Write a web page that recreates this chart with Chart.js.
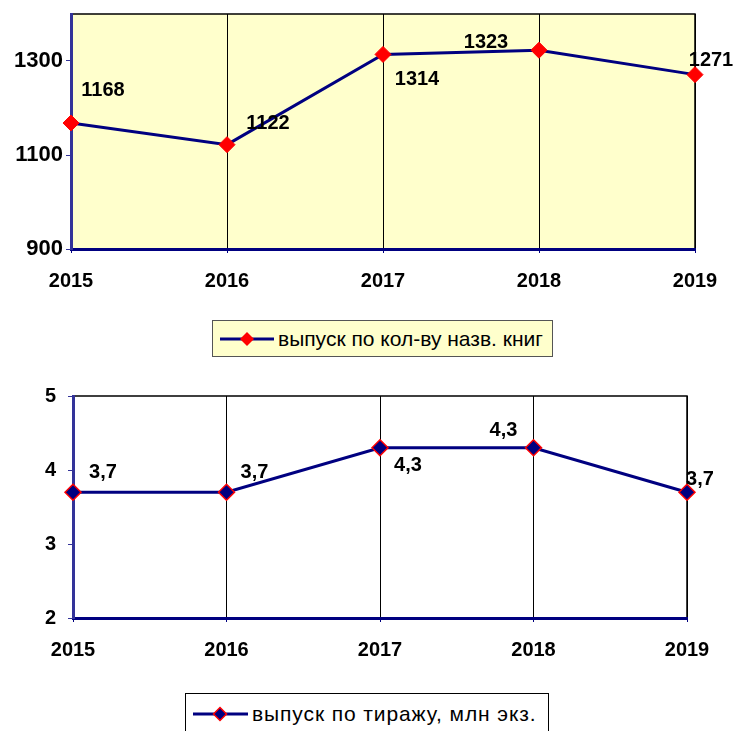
<!DOCTYPE html>
<html>
<head>
<meta charset="utf-8">
<script src="https://cdn.jsdelivr.net/npm/chart.js@4.4.1/dist/chart.umd.min.js"></script>
<style>
  html, body { margin:0; padding:0; background:#fff; }
  body { width:734px; height:731px; position:relative; overflow:hidden; font-family:"Liberation Sans", Arial, sans-serif; }
  .wrap { position:absolute; left:0; width:734px; height:300px; }
  .legend { position:absolute; box-sizing:border-box; display:flex; align-items:center; font-size:21px; color:#000; white-space:nowrap; }
  .legend svg { flex:none; margin-right:4px; }
</style>
</head>
<body>
<div class="wrap" style="top:0"><canvas id="c1" width="734" height="300"></canvas></div>
<div class="wrap" style="top:380px"><canvas id="c2" width="734" height="300"></canvas></div>

<div class="legend" id="lg1" style="left:212px;top:320px;width:341px;height:37px;background:#FFFFCC;border:1px solid #555;padding-left:7px;">
  <svg width="54" height="16" viewBox="0 0 54 16"><line x1="0" y1="8" x2="54" y2="8" stroke="#000080" stroke-width="3"/><polygon points="27,1 34,8 27,15 20,8" fill="#FF0000"/></svg>
  <span>выпуск по кол-ву назв. книг</span>
</div>
<div class="legend" id="lg2" style="left:185px;top:693px;width:364px;height:44px;background:#fff;border:1px solid #000;padding-left:7px;padding-bottom:2px;">
  <svg width="55" height="16" viewBox="0 0 55 16"><line x1="0" y1="8" x2="55" y2="8" stroke="#000080" stroke-width="3"/><polygon points="27,1.5 33.5,8 27,14.5 20.5,8" fill="#000080" stroke="#FF0000" stroke-width="1.5"/></svg>
  <span style="letter-spacing:0.9px">выпуск по тиражу, млн экз.</span>
</div>

<script>
// ---- data ----
const years = ['2015', '2016', '2017', '2018', '2019'];
const titlesCount = [1168, 1122, 1314, 1323, 1271];
const circulation = [3.7, 3.7, 4.3, 4.3, 3.7];
const yTicksTop = [900, 1100, 1300];
const yTicksBottom = [2, 3, 4, 5];
const seriesNameTop = 'выпуск по кол-ву назв. книг';
const seriesNameBottom = 'выпуск по тиражу, млн экз.';

// ---- style (label offsets relative to points) ----
const labelOffsetsTop = [[32, -33], [41, -21], [34, 25], [-53, -8], [16, -14]];
const labelOffsetsBottom = [[30, -20], [28, -20], [28, 18], [-30, -17], [13, -13]];

const FONT = '"Liberation Sans", Arial, sans-serif';

function bgPlugin(fill) {
  return {
    id: 'bg',
    beforeDraw(chart) {
      const a = chart.chartArea, ctx = chart.ctx;
      ctx.save();
      ctx.fillStyle = fill;
      ctx.fillRect(a.left, a.top, a.right - a.left, a.bottom - a.top);
      ctx.strokeStyle = '#000';
      ctx.lineWidth = 1.5;
      ctx.beginPath();
      ctx.moveTo(a.left, a.top);
      ctx.lineTo(a.right, a.top);
      ctx.lineTo(a.right, a.bottom);
      ctx.stroke();
      ctx.restore();
    }
  };
}

function labelPlugin(offsets, fmt) {
  return {
    id: 'vlabels',
    afterDatasetsDraw(chart) {
      const ctx = chart.ctx;
      const meta = chart.getDatasetMeta(0);
      const data = chart.data.datasets[0].data;
      ctx.save();
      ctx.font = 'bold 20px ' + FONT;
      ctx.fillStyle = '#000';
      ctx.textAlign = 'center';
      ctx.textBaseline = 'middle';
      meta.data.forEach((pt, i) => {
        ctx.fillText(fmt(data[i]), pt.x + offsets[i][0], pt.y + offsets[i][1]);
      });
      ctx.restore();
    }
  };
}

function makeChart(id, values, name, cfg) {
  return new Chart(document.getElementById(id), {
    type: 'line',
    data: {
      labels: years,
      datasets: [{
        label: name,
        data: values,
        borderColor: '#000080',
        borderWidth: 3,
        pointStyle: 'rectRot',
        pointRadius: 8,
        pointHoverRadius: 8,
        pointBackgroundColor: cfg.pointFill,
        pointBorderColor: cfg.pointBorder,
        pointBorderWidth: cfg.pointBorderWidth,
        tension: 0,
        clip: false
      }]
    },
    options: {
      responsive: false,
      animation: false,
      events: [],
      layout: { padding: { top: cfg.top, right: cfg.right, left: 0, bottom: 0 } },
      plugins: { legend: { display: false }, tooltip: { enabled: false } },
      scales: {
        x: {
          type: 'category',
          offset: false,
          grid: { color: '#000', lineWidth: 1, tickColor: '#000080', tickLength: 4, drawTicks: true },
          border: { color: '#000080', width: 3 },
          ticks: { color: '#000', font: { family: FONT, size: 20, weight: 'bold' }, padding: 16, maxRotation: 0, autoSkip: false },
          afterFit(s) { s.height = cfg.xHeight; s.paddingLeft = 0; s.paddingRight = 0; }
        },
        y: {
          min: cfg.min, max: cfg.max,
          grid: { drawOnChartArea: false, color: '#333399', tickColor: '#333399', tickLength: 5 },
          border: { color: '#333399', width: 3 },
          ticks: { color: '#000', font: { family: FONT, size: cfg.yFont, weight: 'bold' }, padding: cfg.yPad,
                   callback: v => String(v) },
          afterBuildTicks(s) { s.ticks = cfg.ticks.map(v => ({ value: v })); },
          afterFit(s) { s.width = cfg.yWidth; s.paddingTop = 0; s.paddingBottom = 0; }
        }
      }
    },
    plugins: [bgPlugin(cfg.bg), labelPlugin(cfg.offsets, cfg.fmt)]
  });
}

makeChart('c1', titlesCount, seriesNameTop, {
  top: 14, right: 39, xHeight: 51, yWidth: 71, min: 900, max: 1400, ticks: yTicksTop, yFont: 22, yPad: 3,
  bg: '#FFFFCC', pointFill: '#FF0000', pointBorder: '#FF0000', pointBorderWidth: 1,
  offsets: labelOffsetsTop, fmt: v => String(v)
});
makeChart('c2', circulation, seriesNameBottom, {
  top: 16, right: 47, xHeight: 62, yWidth: 73, min: 2, max: 5, ticks: yTicksBottom, yFont: 20, yPad: 12,
  bg: '#FFFFFF', pointFill: '#000080', pointBorder: '#FF0000', pointBorderWidth: 1.5,
  offsets: labelOffsetsBottom, fmt: v => v.toFixed(1).replace('.', ',')
});
</script>
</body>
</html>
